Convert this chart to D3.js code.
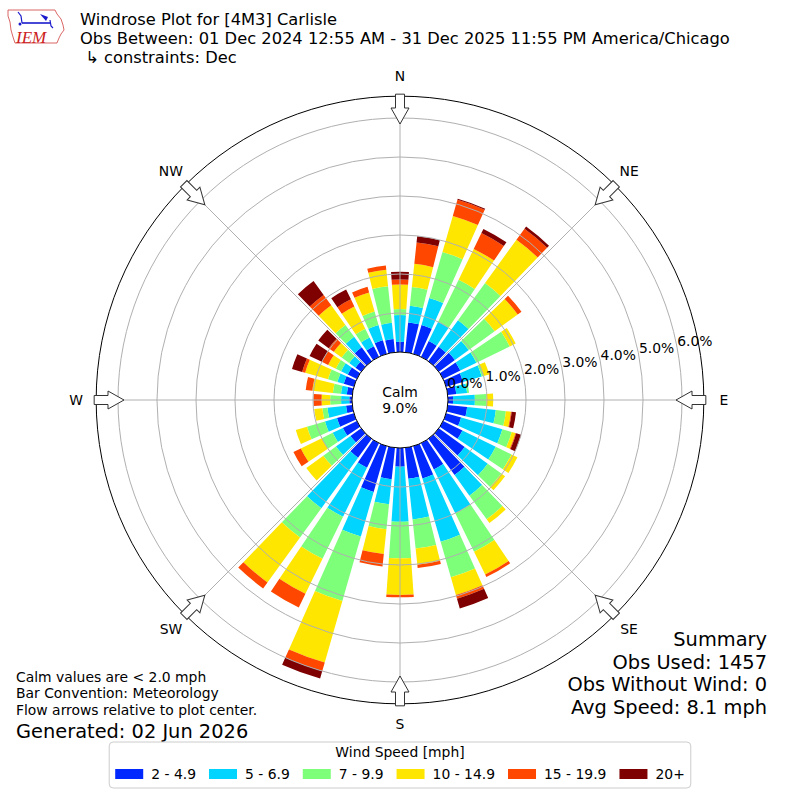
<html>
<head>
    <script src="https://d3js.org/d3.v7.min.js"></script>
    <style>
        body { margin: 0; background: white; }
        svg { font-family: "DejaVu Sans", sans-serif; }
    </style>
</head>
<body>
<svg id="chart" width="800" height="800"></svg>
<script>
    //////////////////////////////////////////DATA//////////////////////////////////////////
    // direction the wind blows from, every 10 degrees
    const directions = d3.range(0, 360, 10);
    const speedBins = ["2 - 4.9", "5 - 6.9", "7 - 9.9", "10 - 14.9", "15 - 19.9", "20+"];
    const binColors = ["#0028ff", "#00d4ff", "#7dff7a", "#ffe600", "#ff4700", "#7f0000"];

    // percent of observations per direction for each speed bin (read off the plot)
    //                 0     10    20    30    40    50    60    70    80    90    100   110   120   130   140   150   160   170   180   190   200   210   220   230   240   250   260   270   280   290   300   310   320   330   340   350
    const speed2to5 = [0.26, 0.77, 0.77, 0.45, 0.46, 0.51, 0.49, 0.45, 0.22, 0.13, 0.50, 0.40, 0.55, 0.82, 1.15, 0.75, 0.86, 0.80, 0.48, 0.81, 1.22, 0.70, 0.60, 0.34, 0.40, 0.45, 0.16, 0.07, 0.14, 0.27, 0.26, 0.18, 0.44, 0.30, 0.36, 0.34];
    const speed5to7 = [0.69, 0.43, 0.72, 0.55, 0.84, 0.44, 0.46, 0.50, 0.28, 0.56, 0.74, 1.10, 0.95, 0.73, 0.65, 1.25, 1.69, 1.05, 1.41, 0.65, 1.19, 1.40, 1.60, 0.46, 0.29, 0.32, 0.48, 0.21, 0.15, 0.17, 0.19, 0.20, 0.33, 0.25, 0.41, 0.42];
    const speed7to10 = [0.15, 0.48, 1.23, 1.20, 1.18, 0.82, 0.95, 0.05, 0.05, 0.30, 0.26, 0.25, 0.45, 0.43, 0.75, 1.10, 0.95, 0.75, 0.94, 0.64, 1.72, 1.20, 0.93, 0.40, 0.31, 0.48, 0.13, 0.28, 0.21, 0.25, 0.15, 0.24, 0.38, 0.25, 0.36, 0.94];
    const speed10to15 = [0.63, 0.60, 0.96, 0.88, 1.37, 0.73, 0.17, 0.15, 0.00, 0.17, 0.13, 0.10, 0.17, 0.12, 0.12, 0.65, 0.47, 0.42, 0.94, 0.64, 1.64, 1.00, 1.42, 0.54, 0.60, 0.30, 0.21, 0.22, 0.53, 0.61, 0.22, 0.25, 0.62, 0.64, 0.51, 0.43];
    const speed15to20 = [0.13, 0.55, 0.43, 0.45, 0.35, 0.12, 0.00, 0.00, 0.00, 0.00, 0.02, 0.02, 0.00, 0.00, 0.00, 0.07, 0.10, 0.08, 0.06, 0.32, 0.23, 0.39, 0.19, 0.00, 0.21, 0.00, 0.00, 0.21, 0.17, 0.08, 0.18, 0.16, 0.33, 0.20, 0.15, 0.11];
    const speed20up = [0.20, 0.16, 0.03, 0.12, 0.07, 0.00, 0.00, 0.00, 0.00, 0.00, 0.11, 0.13, 0.00, 0.00, 0.00, 0.00, 0.26, 0.00, 0.00, 0.00, 0.20, 0.00, 0.00, 0.00, 0.00, 0.00, 0.00, 0.00, 0.00, 0.27, 0.35, 0.33, 0.44, 0.28, 0.00, 0.00];

    const calmPct = 9.0;
    const ringTicks = [0, 1, 2, 3, 4, 5, 6];
    const compassNames = ["N", "NE", "E", "SE", "S", "SW", "W", "NW"];

    const titleLines = ["Windrose Plot for [4M3] Carlisle",
        "Obs Between: 01 Dec 2024 12:55 AM - 31 Dec 2025 11:55 PM America/Chicago",
        " \u21b3 constraints: Dec"];
    const noteLines = ["Calm values are < 2.0 mph", "Bar Convention: Meteorology", "Flow arrows relative to plot center."];
    const summaryLines = ["Summary", "Obs Used: 1457", "Obs Without Wind: 0", "Avg Speed: 8.1 mph"];

    //////////////////////////////////////////SETUP//////////////////////////////////////////
    const svg = d3.select("#chart");
    const cx = 400, cy = 400;
    const rMax = 6.56;
    const opening = 8; // degrees of each 10 degree sector that is filled
    const gridColor = "#b0b0b0";
    const smallFont = "13.9px";

    const r = d3.scaleLinear().domain([0, 6]).range([48, 282]);
    const rad = deg => deg * Math.PI / 180;

    const binValues = [speed2to5, speed5to7, speed7to10, speed10to15, speed15to20, speed20up];
    const rows = directions.map((dir, i) => {
        const row = { dir: dir };
        speedBins.forEach((b, j) => row[b] = binValues[j][i]);
        return row;
    });
    const stacked = d3.stack().keys(speedBins)(rows);
    const color = d3.scaleOrdinal().domain(speedBins).range(binColors);

    const rose = svg.append("g").attr("transform", "translate(" + cx + "," + cy + ")");

    //////////////////////////////////////////BARS//////////////////////////////////////////
    const arc = d3.arc()
        .innerRadius(d => r(d[0]))
        .outerRadius(d => r(d[1]))
        .startAngle(d => rad(d.data.dir - opening / 2))
        .endAngle(d => rad(d.data.dir + opening / 2));

    rose.selectAll("g.layer").data(stacked)
        .join("g")
        .attr("class", "layer")
        .attr("fill", d => color(d.key))
        .selectAll("path")
        .data(d => d.filter(p => p[1] > p[0]))
        .join("path")
        .attr("d", arc);

    //////////////////////////////////////////GRID (drawn over the bars)//////////////////////////////////////////
    rose.selectAll("circle.ring").data(ringTicks.slice(1))
        .join("circle")
        .attr("class", "ring")
        .attr("r", d => r(d))
        .attr("fill", "none")
        .attr("stroke", gridColor)
        .attr("stroke-width", 1);

    rose.selectAll("line.spoke").data(d3.range(0, 360, 45))
        .join("line")
        .attr("class", "spoke")
        .attr("x1", 0).attr("y1", 0)
        .attr("x2", d => r(rMax) * Math.sin(rad(d)))
        .attr("y2", d => -r(rMax) * Math.cos(rad(d)))
        .attr("stroke", gridColor)
        .attr("stroke-width", 1);

    // calm circle in the middle
    rose.append("circle")
        .attr("r", r(0))
        .attr("fill", "white")
        .attr("stroke", "black")
        .attr("stroke-width", 1);
    rose.append("text").text("Calm")
        .attr("y", -3).attr("text-anchor", "middle")
        .style("font-size", smallFont);
    rose.append("text").text(calmPct.toFixed(1) + "%")
        .attr("y", 13).attr("text-anchor", "middle")
        .style("font-size", smallFont);

    // outer frame
    rose.append("circle")
        .attr("r", r(rMax))
        .attr("fill", "none")
        .attr("stroke", "black")
        .attr("stroke-width", 1);

    //////////////////////////////////////////COMPASS ARROWS + LABELS//////////////////////////////////////////
    const arrowPts = [[-4.5, -r(rMax) - 2], [4.5, -r(rMax) - 2], [4.5, -292], [9, -292], [0, -276], [-9, -292], [-4.5, -292]];
    rose.selectAll("path.arrow").data(compassNames)
        .join("path")
        .attr("class", "arrow")
        .attr("d", d3.line()(arrowPts) + "Z")
        .attr("transform", (d, i) => "rotate(" + (i * 45) + ")")
        .attr("fill", "white")
        .attr("stroke", "#333")
        .attr("stroke-width", 1);

    rose.selectAll("text.compass").data(compassNames)
        .join("text")
        .attr("class", "compass")
        .text(d => d)
        .attr("x", (d, i) => 324 * Math.sin(rad(i * 45)))
        .attr("y", (d, i) => -324 * Math.cos(rad(i * 45)) + 5)
        .attr("text-anchor", "middle")
        .style("font-size", smallFont);

    // ring labels, anchored bottom-left on each ring at ~10 degrees above east
    const labelAngle = rad(10.5);
    rose.selectAll("text.rlabel").data(ringTicks)
        .join("text")
        .attr("class", "rlabel")
        .text(d => d.toFixed(1) + "%")
        .attr("x", d => r(d) * Math.cos(labelAngle))
        .attr("y", d => -r(d) * Math.sin(labelAngle) - 3)
        .attr("text-anchor", "start")
        .style("font-size", smallFont);

    //////////////////////////////////////////TEXT//////////////////////////////////////////
    svg.selectAll("text.title").data(titleLines)
        .join("text")
        .attr("class", "title")
        .text(d => d)
        .attr("x", 80)
        .attr("y", (d, i) => 24.5 + i * 19)
        .style("font-size", "16.3px")
        .style("white-space", "pre");

    svg.selectAll("text.note").data(noteLines)
        .join("text")
        .attr("class", "note")
        .text(d => d)
        .attr("x", 16)
        .attr("y", (d, i) => 682 + i * 16.3)
        .style("font-size", smallFont);
    svg.append("text").text("Generated: 02 Jun 2026")
        .attr("x", 16).attr("y", 738)
        .style("font-size", "19.4px");

    svg.selectAll("text.summary").data(summaryLines)
        .join("text")
        .attr("class", "summary")
        .text(d => d)
        .attr("x", 767)
        .attr("y", (d, i) => 646 + i * 22.5)
        .attr("text-anchor", "end")
        .style("font-size", "19.4px");

    //////////////////////////////////////////LEGEND//////////////////////////////////////////
    const legend = svg.append("g");
    const legendBox = legend.append("rect");
    legend.append("text").text("Wind Speed [mph]")
        .attr("x", 400).attr("y", 757)
        .attr("text-anchor", "middle")
        .style("font-size", smallFont);
    const items = legend.append("g");
    let xPos = 0;
    speedBins.forEach((b, i) => {
        items.append("rect")
            .attr("x", xPos).attr("y", 769)
            .attr("width", 28).attr("height", 10)
            .attr("fill", color(b));
        const t = items.append("text").text(b)
            .attr("x", xPos + 36).attr("y", 779)
            .style("font-size", smallFont);
        xPos += 36 + t.node().getComputedTextLength() + 13;
    });
    const itemsWidth = xPos - 13;
    items.attr("transform", "translate(" + (400 - itemsWidth / 2) + ",0)");
    legendBox
        .attr("x", 400 - itemsWidth / 2 - 6).attr("y", 742)
        .attr("width", itemsWidth + 12).attr("height", 46)
        .attr("rx", 4)
        .attr("fill", "white")
        .attr("stroke", "#cccccc");

    //////////////////////////////////////////IEM LOGO//////////////////////////////////////////
    const logo = svg.append("g");
    logo.append("path")
        .attr("d", "M8,10 L55,10 L57,14 L61,19 L63,25 L64,30 L61,34 L59,38 L57,43 L15,43 L13,37 L11,30 L10,22 L8,16 Z")
        .attr("fill", "none")
        .attr("stroke", "#d04040")
        .attr("stroke-width", 0.8);
    logo.append("line").attr("x1", 22).attr("y1", 23).attr("x2", 50).attr("y2", 23)
        .attr("stroke", "#1a1acc").attr("stroke-width", 1.6);
    logo.append("path").attr("d", "M18,12 L21,16 L22,23").attr("fill", "none")
        .attr("stroke", "#1a1acc").attr("stroke-width", 1.2);
    logo.append("path").attr("d", "M40,14 L48,17 L46,21 Z").attr("fill", "#1a1acc");
    logo.append("path").attr("d", "M50,20 L51,26 L53,28").attr("fill", "none")
        .attr("stroke", "#1a1acc").attr("stroke-width", 1.2);
    logo.append("circle").attr("cx", 20).attr("cy", 24).attr("r", 1.5).attr("fill", "#1a1acc");
    logo.append("text").text("IEM")
        .attr("x", 16).attr("y", 43)
        .style("font-family", "'Liberation Serif', serif")
        .style("font-style", "italic")
        .style("font-size", "17px")
        .attr("fill", "#cc2020");
</script>
</body>
</html>
